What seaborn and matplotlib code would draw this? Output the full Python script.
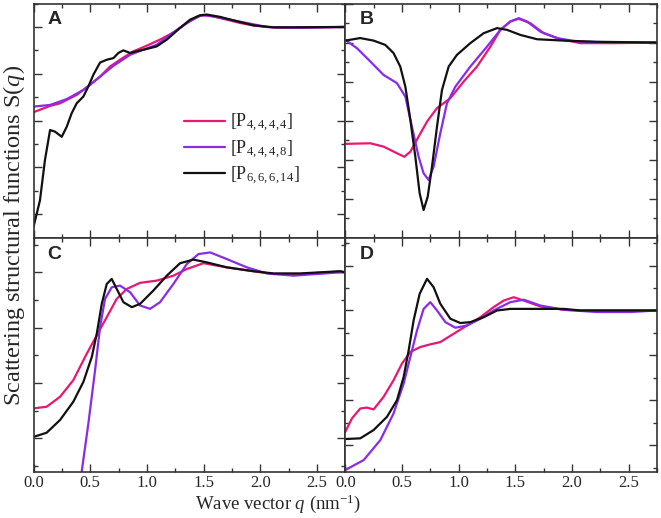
import numpy as np
import pandas as pd
import matplotlib
matplotlib.use("Agg")
import matplotlib.pyplot as plt
import seaborn as sns
from matplotlib.ticker import MultipleLocator

# Tuzlar (seriler)
tuzlar = ["[P$_{4,4,4,4}$]", "[P$_{4,4,4,8}$]", "[P$_{6,6,6,14}$]"]
renkler = ["#e8176f", "#8a2be8", "#111111"]

# Panel A
qA_p4444 = [0.0, 0.146, 0.234, 0.381, 0.499, 0.587, 0.675, 0.763, 0.881, 0.999, 1.116, 1.236, 1.354, 1.44, 1.499, 1.587, 1.705, 1.823, 1.94, 2.058, 2.18, 2.35, 2.75]
sA_p4444 = [0.636, 0.663, 0.674, 0.710, 0.753, 0.788, 0.831, 0.860, 0.896, 0.920, 0.946, 0.977, 1.017, 1.043, 1.050, 1.045, 1.031, 1.017, 1.006, 1.0, 0.997, 0.997, 1.0]
qA_p4448 = [0.0, 0.146, 0.293, 0.44, 0.587, 0.705, 0.852, 0.969, 1.087, 1.205, 1.354, 1.469, 1.528, 1.764, 2.058, 2.35, 2.75]
sA_p4448 = [0.660, 0.667, 0.692, 0.731, 0.788, 0.834, 0.881, 0.903, 0.924, 0.967, 1.017, 1.048, 1.050, 1.028, 1.0, 0.997, 1.0]
qA_p66614 = [0.0, 0.057, 0.101, 0.146, 0.19, 0.249, 0.293, 0.337, 0.381, 0.44, 0.484, 0.528, 0.587, 0.646, 0.705, 0.749, 0.793, 0.852, 0.91, 0.999, 1.087, 1.176, 1.293, 1.381, 1.469, 1.528, 1.646, 1.764, 1.94, 2.117, 2.75]
sA_p66614 = [0.146, 0.260, 0.432, 0.560, 0.553, 0.531, 0.574, 0.632, 0.674, 0.703, 0.746, 0.796, 0.848, 0.860, 0.867, 0.889, 0.900, 0.889, 0.896, 0.906, 0.917, 0.946, 0.996, 1.031, 1.050, 1.053, 1.043, 1.028, 1.007, 0.998, 1.0]

# Panel B
qB_p4444 = [0.0, 0.221, 0.338, 0.456, 0.521, 0.574, 0.647, 0.721, 0.809, 0.927, 1.044, 1.162, 1.28, 1.368, 1.456, 1.53, 1.633, 1.75, 1.898, 2.074, 2.368, 2.75]
sB_p4444 = [0.481, 0.484, 0.467, 0.433, 0.415, 0.441, 0.518, 0.595, 0.664, 0.715, 0.800, 0.877, 0.979, 1.065, 1.108, 1.122, 1.099, 1.048, 1.017, 0.997, 0.997, 1.0]
qB_p4448 = [0.0, 0.103, 0.221, 0.338, 0.456, 0.53, 0.588, 0.647, 0.691, 0.735, 0.779, 0.838, 0.897, 0.971, 1.103, 1.25, 1.368, 1.456, 1.53, 1.603, 1.721, 1.868, 2.045, 2.368, 2.75]
sB_p4448 = [1.014, 0.971, 0.903, 0.834, 0.792, 0.723, 0.569, 0.415, 0.330, 0.296, 0.364, 0.535, 0.689, 0.774, 0.877, 0.979, 1.065, 1.108, 1.125, 1.108, 1.056, 1.023, 1.005, 1.0, 1.0]
qB_p66614 = [0.0, 0.132, 0.25, 0.353, 0.426, 0.485, 0.53, 0.574, 0.618, 0.656, 0.691, 0.727, 0.765, 0.809, 0.853, 0.912, 0.985, 1.103, 1.221, 1.339, 1.427, 1.545, 1.692, 1.927, 2.221, 2.75]
sB_p66614 = [1.010, 1.023, 1.010, 0.988, 0.946, 0.877, 0.774, 0.604, 0.415, 0.228, 0.142, 0.210, 0.364, 0.569, 0.757, 0.877, 0.937, 0.997, 1.048, 1.074, 1.065, 1.039, 1.017, 1.010, 1.004, 1.0]

# Panel C
qC_p4444 = [0.0, 0.116, 0.234, 0.351, 0.47, 0.558, 0.646, 0.734, 0.823, 0.94, 1.087, 1.234, 1.352, 1.499, 1.705, 1.94, 2.117, 2.352, 2.705, 2.75]
sC_p4444 = [0.508, 0.514, 0.550, 0.610, 0.706, 0.772, 0.838, 0.904, 0.940, 0.962, 0.970, 0.988, 1.012, 1.033, 1.018, 1.004, 0.994, 0.994, 1.003, 1.0]
qC_p4448 = [0.38, 0.425, 0.484, 0.543, 0.587, 0.631, 0.69, 0.763, 0.852, 0.94, 1.028, 1.116, 1.234, 1.352, 1.455, 1.558, 1.705, 1.882, 2.058, 2.293, 2.705, 2.75]
sC_p4448 = [0.15, 0.279, 0.454, 0.646, 0.802, 0.904, 0.946, 0.952, 0.928, 0.880, 0.868, 0.892, 0.958, 1.030, 1.066, 1.072, 1.048, 1.018, 0.996, 0.988, 1.0, 1.0]
qC_p66614 = [0.0, 0.116, 0.234, 0.351, 0.44, 0.514, 0.558, 0.602, 0.646, 0.69, 0.734, 0.793, 0.867, 0.94, 1.057, 1.176, 1.293, 1.41, 1.529, 1.705, 1.94, 2.117, 2.352, 2.705, 2.75]
sC_p66614 = [0.405, 0.420, 0.466, 0.532, 0.604, 0.694, 0.778, 0.886, 0.958, 0.976, 0.940, 0.892, 0.874, 0.886, 0.934, 0.988, 1.033, 1.046, 1.036, 1.018, 1.004, 0.996, 0.996, 1.004, 1.0]

# Panel D
qD_p4444 = [0.0, 0.059, 0.132, 0.191, 0.25, 0.338, 0.426, 0.5, 0.574, 0.662, 0.75, 0.838, 0.956, 1.074, 1.192, 1.309, 1.397, 1.486, 1.574, 1.721, 1.927, 2.074, 2.75]
sD_p4444 = [0.459, 0.519, 0.563, 0.567, 0.559, 0.615, 0.689, 0.763, 0.815, 0.837, 0.849, 0.859, 0.896, 0.933, 0.970, 1.015, 1.044, 1.059, 1.044, 1.018, 1.003, 1.0, 1.0]
qD_p4448 = [0.0, 0.162, 0.309, 0.426, 0.515, 0.574, 0.633, 0.691, 0.75, 0.809, 0.883, 0.971, 1.074, 1.192, 1.309, 1.456, 1.574, 1.721, 1.927, 2.221, 2.515, 2.75]
sD_p4448 = [0.289, 0.333, 0.422, 0.541, 0.674, 0.793, 0.911, 1.007, 1.037, 1.0, 0.948, 0.923, 0.933, 0.963, 1.0, 1.037, 1.048, 1.022, 1.003, 0.993, 0.993, 1.0]
qD_p66614 = [0.0, 0.132, 0.25, 0.368, 0.456, 0.515, 0.559, 0.603, 0.656, 0.721, 0.779, 0.838, 0.927, 1.015, 1.103, 1.221, 1.339, 1.456, 1.927, 2.074, 2.75]
sD_p66614 = [0.427, 0.430, 0.467, 0.526, 0.600, 0.704, 0.822, 0.956, 1.074, 1.141, 1.104, 1.030, 0.963, 0.944, 0.948, 0.970, 1.0, 1.007, 1.007, 1.0, 1.0]

paneller = {
    "A": [(qA_p4444, sA_p4444), (qA_p4448, sA_p4448), (qA_p66614, sA_p66614)],
    "B": [(qB_p4444, sB_p4444), (qB_p4448, sB_p4448), (qB_p66614, sB_p66614)],
    "C": [(qC_p4444, sC_p4444), (qC_p4448, sC_p4448), (qC_p66614, sC_p66614)],
    "D": [(qD_p4444, sD_p4444), (qD_p4448, sD_p4448), (qD_p66614, sD_p66614)],
}
y_sinirlari = {"A": (0.10, 1.10), "B": (0.0, 1.20), "C": (0.278, 1.125), "D": (0.28, 1.324)}

sns.set_style("ticks")
plt.rcParams['font.family'] = ['Liberation Serif', 'DejaVu Serif']
plt.rcParams['mathtext.fontset'] = 'custom'
plt.rcParams['mathtext.rm'] = 'Liberation Serif'
plt.rcParams['mathtext.it'] = 'Liberation Serif:italic'

fig, axes = plt.subplots(2, 2, figsize=(6.61, 5.18), dpi=100, sharex=True)
fig.subplots_adjust(left=0.0507, right=0.994, top=0.9932, bottom=0.0888, wspace=0, hspace=0)

for ax, (harf, seriler) in zip(axes.flat, paneller.items()):
    satirlar = []
    for tuz, (q, s) in zip(tuzlar, seriler):
        satirlar.append(pd.DataFrame({"q": q, "S": s, "tuz": tuz}))
    df = pd.concat(satirlar, ignore_index=True)
    sns.lineplot(data=df, x="q", y="S", hue="tuz", palette=renkler, sort=False,
                 estimator=None, linewidth=1.6, ax=ax, legend=(harf == "A"))
    ax.set_xlim(0, 2.75)
    ax.set_ylim(*y_sinirlari[harf])
    ax.xaxis.set_major_locator(MultipleLocator(0.5))
    ax.xaxis.set_minor_locator(MultipleLocator(0.25))
    ax.yaxis.set_major_locator(MultipleLocator(0.2))
    ax.yaxis.set_minor_locator(MultipleLocator(0.1))
    ax.tick_params(which="both", direction="in", top=True, right=True, labelleft=False,
                   color="#333333", width=1)
    ax.tick_params(which="major", length=6)
    ax.tick_params(which="minor", length=3)
    ax.tick_params(axis="x", labelsize=12, pad=2)
    for sp in ax.spines.values():
        sp.set_color("#333333")
        sp.set_linewidth(1.2)
    ax.set_xlabel("")
    ax.set_ylabel("")
    ax.text(0.045, 0.93, harf, transform=ax.transAxes, fontsize=14, fontweight="bold",
            family="Liberation Sans", va="center", ha="left")

axes[0, 0].legend(frameon=False, loc="upper left", bbox_to_anchor=(0.43, 0.605),
                  fontsize=13, handlelength=2.3, labelspacing=0.22, handletextpad=0.25)

fig.text(278 / 661, 0.027, "Wave vector $q$ (nm$^{-1}$)", ha="center", va="center", fontsize=13.5)
fig.text(14 / 661, 0.545, "Scattering structural functions S($q$)", ha="center", va="center",
         rotation=90, fontsize=17.5)

plt.savefig("out.png", dpi=100)
